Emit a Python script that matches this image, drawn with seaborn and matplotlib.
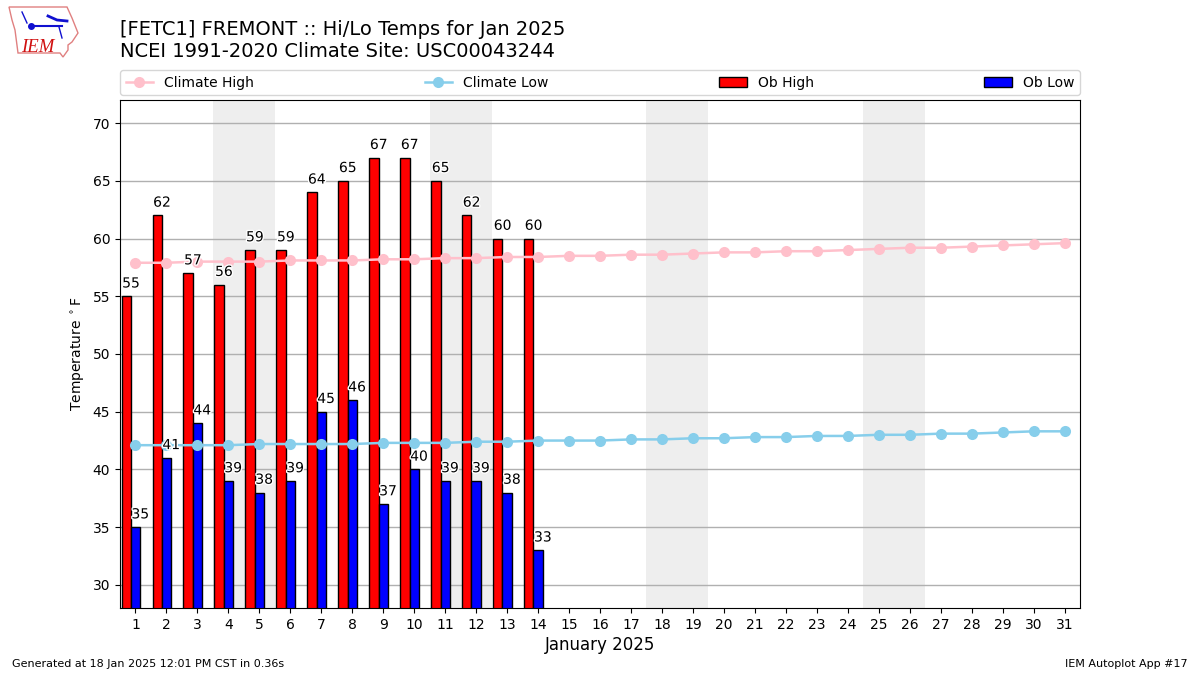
#daily hi/lo temps vs climate, bars with seaborn
from matplotlib import pyplot as plt
from matplotlib.patches import Polygon
import matplotlib.patheffects as pe
import pandas as pd
import numpy as np
import seaborn as sns

days = list(range(1, 32))
ob_days = list(range(1, 15))
climate_high = [57.9, 57.9, 58.0, 58.0, 58.0, 58.1, 58.1, 58.1, 58.2, 58.2, 58.3,
                58.3, 58.4, 58.4, 58.5, 58.5, 58.6, 58.6, 58.7, 58.8, 58.8, 58.9,
                58.9, 59.0, 59.1, 59.2, 59.2, 59.3, 59.4, 59.5, 59.6]
climate_low = [42.1, 42.1, 42.1, 42.1, 42.2, 42.2, 42.2, 42.2, 42.3, 42.3, 42.3,
               42.4, 42.4, 42.5, 42.5, 42.5, 42.6, 42.6, 42.7, 42.7, 42.8, 42.8,
               42.9, 42.9, 43.0, 43.0, 43.1, 43.1, 43.2, 43.3, 43.3]
ob_high = [55, 62, 57, 56, 59, 59, 64, 65, 67, 67, 65, 62, 60, 60]
ob_low = [35, 41, 44, 39, 38, 39, 45, 46, 37, 40, 39, 39, 38, 33]
weekends = [(3.5, 5.5), (10.5, 12.5), (17.5, 19.5), (24.5, 26.5)]

climate = pd.DataFrame({'day': days, 'high': climate_high, 'low': climate_low})
obs = pd.DataFrame({'day': ob_days, 'high': ob_high, 'low': ob_low})

fig = plt.figure(figsize=(12, 6.75), dpi=100)
ax = fig.add_axes([0.1, 0.0993, 0.8, 0.7526])

for start, end in weekends:
    ax.axvspan(start, end, color='#EEEEEE', lw=0, zorder=0)

# bars sit left of the day tick, highs then lows
sns.barplot(x=obs.day - 0.3, y=obs.high, native_scale=True, width=0.3, color='red',
            saturation=1, edgecolor='k', linewidth=1, label='Ob High', ax=ax, zorder=2)
sns.barplot(x=obs.day + 0.0, y=obs.low, native_scale=True, width=0.3, color='blue',
            saturation=1, edgecolor='k', linewidth=1, label='Ob Low', ax=ax, zorder=2)
sns.lineplot(data=climate, x='day', y='high', color='pink', marker='o', markersize=8,
             markeredgewidth=0, linewidth=1.8, label='Climate High', ax=ax, zorder=3)
sns.lineplot(data=climate, x='day', y='low', color='skyblue', marker='o', markersize=8,
             markeredgewidth=0, linewidth=1.8, label='Climate Low', ax=ax, zorder=3)

halo = [pe.withStroke(linewidth=2, foreground='white')]
for d, v in zip(ob_days, ob_high):
    ax.text(d - 0.43, v + 0.5, str(v), fontsize=10, va='bottom', ha='left', path_effects=halo, zorder=4)
for d, v in zip(ob_days, ob_low):
    ax.text(d - 0.13, v + 0.5, str(v), fontsize=10, va='bottom', ha='left', path_effects=halo, zorder=4)

ax.set_xlim(0.5, 31.5)
ax.set_ylim(28, 72)
ax.set_xticks(days)
ax.set_xticklabels([str(d) for d in days])
ax.set_yticks(np.arange(30, 71, 5))
ax.yaxis.grid(True, color='#b0b0b0', lw=1, zorder=1)
ax.xaxis.grid(False)
ax.set_axisbelow(True)
ax.set_xlabel('January 2025', fontsize=12, labelpad=3)
ax.set_ylabel('Temperature $^\\circ$F')

handles, labels = ax.get_legend_handles_labels()
order = [labels.index(n) for n in ['Climate High', 'Climate Low', 'Ob High', 'Ob Low']]
ax.legend([handles[i] for i in order], [labels[i] for i in order], ncol=4, mode='expand',
          loc='lower left', bbox_to_anchor=(0, 1.0095, 1, 0.05), borderaxespad=0, fontsize=10)

fig.text(0.1, 0.91, '[FETC1] FREMONT :: Hi/Lo Temps for Jan 2025\nNCEI 1991-2020 Climate Site: USC00043244',
         fontsize=14, va='bottom', ha='left')
fig.text(0.01, 0.0125, 'Generated at 18 Jan 2025 12:01 PM CST in 0.36s', fontsize=8)
fig.text(0.99, 0.0125, 'IEM Autoplot App #17', fontsize=8, ha='right')

# rough IEM logo, axes units are pixels
logo = fig.add_axes([0, 1 - 64 / 675, 90 / 1200, 64 / 675])
logo.set_xlim(0, 90)
logo.set_ylim(64, 0)
logo.axis('off')
logo.add_patch(Polygon([(9, 7), (67, 7), (72, 18), (78, 33), (72, 42), (68, 45), (68, 50),
                        (63, 57), (60, 53), (18, 53), (15, 30), (12, 20)],
                       closed=True, fill=False, edgecolor='#E08080', lw=1))
logo.plot([32, 62], [26, 26], color='#1010D0', lw=1.5)
logo.plot([31], [26], 'o', color='#1010D0', ms=4)
logo.plot([48, 57, 67], [16, 20, 21], color='#1010D0', lw=2)
logo.plot([59, 62], [27, 38], color='#1010D0', lw=1)
logo.plot([22, 27], [12, 23], color='#1010D0', lw=1)
logo.text(21, 52, 'IEM', color='#D01010', fontsize=13.5, family='Liberation Serif', style='italic')

plt.savefig('out.png', dpi=100)
